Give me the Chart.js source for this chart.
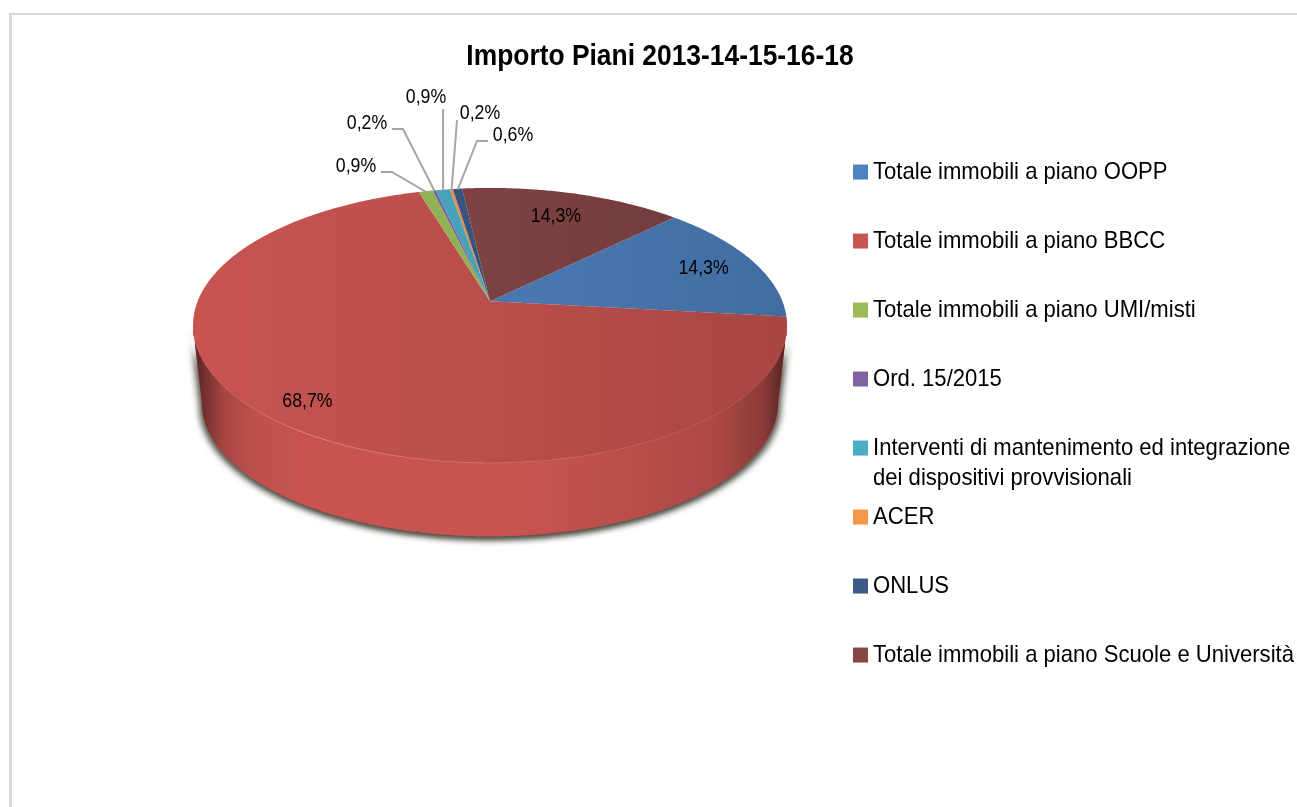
<!DOCTYPE html>
<html lang="it">
<head>
<meta charset="utf-8">
<title>Importo Piani 2013-14-15-16-18</title>
<script src="https://cdn.jsdelivr.net/npm/chart.js@4"></script>
<style>
    html, body { margin: 0; padding: 0; background: #fff; overflow: hidden; }
    #frame { position: absolute; left: 9px; top: 13px; width: 1400px; height: 900px; border-left: 3px solid #d9d9d9; border-top: 2px solid #d9d9d9; }
    #chart { position: absolute; left: 0; top: 0; }
</style>
</head>
<body>
<div id="frame"></div>
<canvas id="chart" width="1297" height="807"></canvas>
<script>
// Data
const chartTitle = "Importo Piani 2013-14-15-16-18";
const categories = [
    "Totale immobili a piano OOPP",
    "Totale immobili a piano BBCC",
    "Totale immobili a piano UMI/misti",
    "Ord. 15/2015",
    "Interventi di mantenimento ed integrazione",
    "ACER",
    "ONLUS",
    "Totale immobili a piano Scuole e Università"
];
const categorySecondLines = { 4: "dei dispositivi provvisionali" };
const percentages = [14.3, 68.7, 0.9, 0.2, 0.9, 0.2, 0.6, 14.3];
const sliceColors = ["#4f82c0", "#c85450", "#9bbb59", "#8064a2", "#4bacc6", "#f79646", "#3b5a88", "#864646"];

// Layout of the tilted pie
const FONT = "'Liberation Sans', Arial, sans-serif";
const TEXT_SQUEEZE = 0.92;   // the reference text is a condensed Arial
const STRETCH_X = 2.16;      // top ellipse width / height
const SHIFT_X = 71;          // chart area centre -> ellipse centre
const SHIFT_Y = -135.6;
const TILT = -0.175;         // perspective: moves the apex up from the ellipse centre
const WALL = { dy: 77.5, shrink: 0.97 };
const LEGEND_PADDING = 45;

// Where the data labels go: inside the slice or on a leader line
const insideLabels = { 0: 0.81, 1: 0.86, 7: 0.77 };
const leaderLabels = {
    2: { text: [356, 166], line: [[381, 172], [392, 172]] },
    3: { text: [367, 123], line: [[392, 129], [403, 129]] },
    4: { text: [426, 97], line: [[443, 109]] },
    5: { text: [480, 113], line: [[457, 120]] },
    6: { text: [513, 135], line: [[488, 141], [477, 141]] }
};

function project(arc, angle, r, onWall) {
    const u = r * Math.cos(angle);
    const v = r * Math.sin(angle);
    const den = 1 + TILT * v;
    const px = u * Math.sqrt(1 - TILT * TILT) / den;
    const py = (v + TILT) / den;
    const ry = arc.outerRadius;
    const rx = ry * STRETCH_X;
    const cx = arc.x + SHIFT_X;
    const cy = arc.y + SHIFT_Y;
    if (onWall) {
        return [cx + rx * WALL.shrink * px, cy + WALL.dy + ry * WALL.shrink * py];
    }
    return [cx + rx * px, cy + ry * py];
}

function overlay(ctx, arc, stops) {
    const rx = arc.outerRadius * STRETCH_X;
    const cx = arc.x + SHIFT_X;
    const g = ctx.createLinearGradient(cx - rx, 0, cx + rx, 0);
    stops.forEach(function (s) { g.addColorStop(s[0], s[1]); });
    return g;
}

const wallShade = [
    [0, "rgba(0,0,0,0.6)"], [0.02, "rgba(0,0,0,0.42)"], [0.05, "rgba(0,0,0,0.18)"],
    [0.1, "rgba(0,0,0,0.05)"], [0.2, "rgba(0,0,0,0)"], [0.55, "rgba(0,0,0,0)"],
    [0.7, "rgba(0,0,0,0.06)"], [0.88, "rgba(0,0,0,0.14)"], [0.96, "rgba(0,0,0,0.3)"], [1, "rgba(0,0,0,0.6)"]
];
const topShade = [
    [0, "rgba(0,0,0,0)"], [0.5, "rgba(0,0,0,0.07)"], [1, "rgba(0,0,0,0.17)"]
];

const pie3d = {
    id: "pie3d",
    beforeDatasetDraw(chart, args) {
        const ctx = chart.ctx;
        const arcs = args.meta.data;
        const frontStart = Math.asin(-TILT);
        const frontEnd = Math.PI - frontStart;
        const deg = Math.PI / 180;

        // side wall, only the part that faces the viewer
        arcs.forEach(function (arc) {
            const a0 = Math.max(arc.startAngle, frontStart);
            const a1 = Math.min(arc.endAngle, frontEnd);
            if (a1 <= a0) return;
            const top = [], bottom = [];
            for (let a = a0; a < a1; a += deg) {
                top.push(project(arc, a, 1, false));
                bottom.push(project(arc, a, 1, true));
            }
            top.push(project(arc, a1, 1, false));
            bottom.push(project(arc, a1, 1, true));

            ctx.save();
            ctx.beginPath();
            top.forEach(function (p, i) { i ? ctx.lineTo(p[0], p[1]) : ctx.moveTo(p[0], p[1]); });
            bottom.reverse().forEach(function (p) { ctx.lineTo(p[0], p[1]); });
            ctx.closePath();
            // shadow falls a little to both sides and below
            ctx.fillStyle = arc.options.backgroundColor;
            ctx.shadowColor = "rgba(60,60,50,0.8)";
            ctx.shadowBlur = 6;
            [-3, 3].forEach(function (dx) {
                ctx.shadowOffsetX = dx;
                ctx.shadowOffsetY = 3;
                ctx.fill();
            });
            ctx.shadowColor = "transparent";
            ctx.fill();
            ctx.fillStyle = overlay(ctx, arc, wallShade);
            ctx.fill();
            ctx.restore();
        });

        // top surface
        arcs.forEach(function (arc) {
            ctx.save();
            ctx.beginPath();
            const c = project(arc, 0, 0, false);
            ctx.moveTo(c[0], c[1]);
            for (let a = arc.startAngle; a < arc.endAngle; a += deg / 2) {
                const p = project(arc, a, 1, false);
                ctx.lineTo(p[0], p[1]);
            }
            const e = project(arc, arc.endAngle, 1, false);
            ctx.lineTo(e[0], e[1]);
            ctx.closePath();
            ctx.fillStyle = arc.options.backgroundColor;
            ctx.fill();
            ctx.fillStyle = overlay(ctx, arc, topShade);
            ctx.fill();
            ctx.restore();
        });

        // light edge along the front of the top surface
        ctx.save();
        ctx.strokeStyle = overlay(ctx, arcs[1], [
            [0, "rgba(255,190,180,0)"], [0.2, "rgba(255,190,180,0.45)"],
            [0.45, "rgba(255,190,180,0.2)"], [1, "rgba(255,190,180,0.05)"]
        ]);
        ctx.lineWidth = 1;
        ctx.beginPath();
        for (let a = frontStart; a < frontEnd; a += deg) {
            const p = project(arcs[1], a, 1, false);
            ctx.lineTo(p[0], p[1]);
        }
        ctx.stroke();
        ctx.restore();

        return false;
    },
    afterDatasetsDraw(chart) {
        const ctx = chart.ctx;
        const arcs = chart.getDatasetMeta(0).data;
        ctx.save();
        ctx.font = "19.3px " + FONT;
        ctx.textAlign = "center";
        ctx.textBaseline = "middle";
        arcs.forEach(function (arc, i) {
            const mid = (arc.startAngle + arc.endAngle) / 2;
            const label = percentages[i].toFixed(1).replace(".", ",") + "%";
            let pos;
            if (insideLabels[i] !== undefined) {
                pos = project(arc, mid, insideLabels[i], false);
            } else {
                const leader = leaderLabels[i];
                const rim = project(arc, mid, 0.99, false);
                ctx.strokeStyle = "#a6a6a6";
                ctx.lineWidth = 2;
                ctx.beginPath();
                leader.line.forEach(function (p, j) { j ? ctx.lineTo(p[0], p[1]) : ctx.moveTo(p[0], p[1]); });
                ctx.lineTo(rim[0], rim[1]);
                ctx.stroke();
                pos = leader.text;
            }
            ctx.fillStyle = "#000";
            ctx.fillText(label, pos[0], pos[1] + 1);
        });
        ctx.restore();
    },
    afterDraw(chart) {
        // second line of the long legend entries
        const ctx = chart.ctx;
        const legend = chart.legend;
        const rowHeight = 24 + LEGEND_PADDING;
        ctx.save();
        ctx.font = "24px " + FONT;
        ctx.fillStyle = "#000";
        ctx.textBaseline = "middle";
        Object.keys(categorySecondLines).forEach(function (i) {
            const y = legend.top + LEGEND_PADDING + rowHeight * i + 12 + 30;
            ctx.fillText(categorySecondLines[i], legend.left + LEGEND_PADDING + 13, y);
        });
        ctx.restore();
    }
};

const canvas = document.getElementById("chart");
const context = canvas.getContext("2d");

// no condensed font installed, so squeeze every text draw
const plainFillText = context.fillText.bind(context);
context.fillText = function (text, x, y) {
    context.save();
    context.translate(x, y);
    context.scale(TEXT_SQUEEZE, 1);
    plainFillText(text, 0, 0);
    context.restore();
};

new Chart(context, {
    type: "pie",
    plugins: [pie3d],
    data: {
        labels: categories,
        datasets: [{
            data: percentages,
            backgroundColor: sliceColors,
            borderWidth: 0,
            radius: 137.5
        }]
    },
    options: {
        responsive: false,
        animation: false,
        rotation: 45,
        layout: { padding: { left: 23, right: 0, top: 0, bottom: 0 } },
        plugins: {
            title: {
                display: true,
                text: chartTitle,
                color: "#000",
                font: { family: FONT, size: 28.7, weight: "bold" },
                padding: { top: 39.6, bottom: 41 }
            },
            legend: {
                position: "right",
                align: "start",
                fullSize: false,
                maxWidth: 482,
                labels: {
                    color: "#000",
                    font: { family: FONT, size: 24 },
                    padding: LEGEND_PADDING,
                    usePointStyle: true,
                    pointStyle: "rect",
                    boxWidth: 1,
                    boxHeight: 15
                }
            },
            tooltip: { enabled: false }
        }
    }
});
</script>
</body>
</html>
